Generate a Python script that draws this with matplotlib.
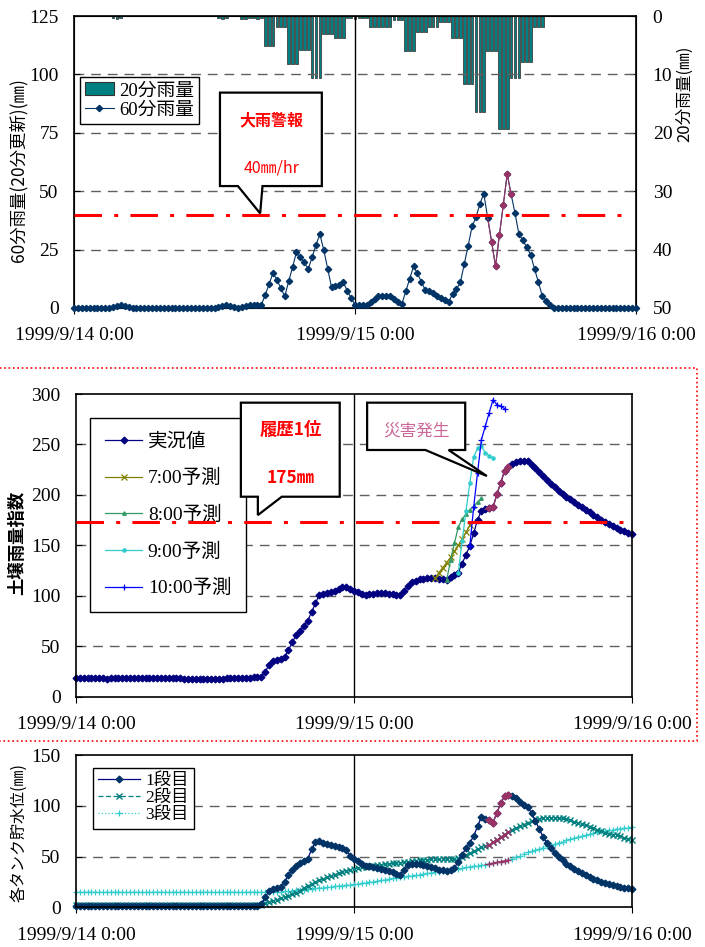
import numpy as np
import matplotlib
matplotlib.use('Agg')
import matplotlib.pyplot as plt
from matplotlib.patches import Polygon, Rectangle, Patch
from matplotlib.lines import Line2D

plt.rcParams['font.family'] = ['Liberation Serif', 'Noto Sans CJK JP']
JP = ['Noto Sans CJK JP', 'DejaVu Sans']

# 1999/9/14 0:00 から 20分毎 (145点)
t = np.arange(145)
xtick_pos = [0, 72, 144]
xtick_labels = ['1999/9/14 0:00', '1999/9/15 0:00', '1999/9/16 0:00']

# 20分雨量 (mm)
rain20 = ([0.0] * 10 + [0.3, 0.5, 0.4] + [0.0] * 24 + [0.3, 0.5, 0.3] + [0.0] * 3
          + [0.5, 0.5, 0.4, 0.4, 0.5, 0.4]
          + [5.1] * 3 + [1.8] * 3 + [8.2] * 3 + [5.9] * 3 + [10.7] * 3 + [3.1] * 3 + [3.8] * 3
          + [0.3, 0.4, 0.5, 0.4, 0.3, 0.4] + [1.8] * 6 + [0.7] * 3
          + [6.0] * 3 + [2.8] * 3 + [1.8] * 3 + [1.0] * 3 + [3.8] * 3 + [11.7] * 3
          + [16.5] * 3 + [6.0] * 3 + [19.3] * 3 + [10.7] * 3 + [7.9] * 3 + [1.8] * 3
          + [0.0] * 24)

# 60分雨量 (20分更新)
rain60 = ([0.0] * 10 + [0.3, 0.8, 1.2, 0.9, 0.4] + [0.0] * 22
          + [0.3, 0.8, 1.1, 0.8, 0.3, 0.0] + [0.5, 1.0, 1.4, 1.3, 1.3, 1.3]
          + [5.6, 10.3, 15.0, 12.0, 8.5, 5.0, 11.4, 17.4, 24.0, 21.7,
             19.5, 16.7, 21.7, 27.0, 31.6, 24.8, 16.7, 8.8, 9.5, 10.0,
             11.0, 7.4, 4.3, 1.3, 1.3, 1.3, 1.3, 2.4, 3.8, 5.0,
             5.0, 5.0, 5.0, 3.8, 2.7, 1.7, 7.1, 12.4, 17.8, 14.8,
             11.3, 7.7, 7.1, 6.3, 5.3, 4.3, 3.4, 2.7, 6.0, 8.1,
             11.0, 18.8, 26.7, 34.9, 38.8, 44.5, 49.0, 38.5, 28.4, 17.8,
             31.2, 44.2, 57.3, 48.7, 40.6, 31.6, 29.0, 26.0, 22.8, 16.7,
             11.0, 5.0, 3.1, 1.4]
          + [0.0] * 22)

# 土壌雨量指数 実況値
soil = ([18.5] * 8 + [17.5] + [18.5] * 19 + [17.5] * 11 + [18.5] * 6 + [19.0, 19.5, 20.0]
        + [19.8, 24.8, 31.4, 35.3, 36.3, 37.3, 39.6, 46.0, 53.8, 61.0,
           65.0, 70.0, 75.3, 83.6, 92.5, 100.8, 101.7, 102.4, 103.4, 105.0,
           106.4, 108.4, 109.0, 106.7, 105.0, 103.4, 101.7, 100.8, 101.4, 101.7,
           102.4, 102.4, 102.4, 101.7, 101.4, 100.8, 101.0, 105.0, 109.7, 113.6,
           115.0, 116.3, 117.0, 117.3, 117.3, 117.3, 117.0, 116.6, 115.6, 118.9,
           120.6, 122.9, 132.0, 140.5, 149.7, 161.9, 175.5, 184.3, 185.7, 187.0,
           187.6, 200.5, 212.0, 224.0, 227.3, 230.6, 232.9, 233.9, 233.9, 233.9,
           229.6, 226.3, 223.0, 218.7, 214.7, 210.8, 207.5, 204.2, 200.9, 198.2,
           195.6, 192.9, 190.3, 187.6, 185.3, 182.7, 180.0, 177.7, 175.4, 173.4,
           171.5, 169.5, 167.5, 165.5, 163.9, 162.5, 161.5])

# 予測値
f0700_t = list(range(93, 103))
f0700 = [117.3, 123, 128, 133, 138, 144, 150, 156, 163, 170]
f0800_t = list(range(96, 106))
f0800 = [115.6, 135, 152, 168, 176, 181, 185.3, 189, 193, 196.5]
f0900_t = list(range(99, 109))
f0900 = [122.9, 154, 184, 212, 238, 246, 248, 242, 239, 236.6]
f1000_t = list(range(102, 112))
f1000 = [149.7, 188, 222, 254.7, 268, 281.2, 294.4, 289.5, 287.8, 285.5]

# タンク貯水位
tank1 = ([0.8] * 48
         + [3.0, 10.0, 16.0, 18.0, 18.7, 20.0, 25.0, 31.8, 36.8, 40.7,
            43.3, 45.5, 47.5, 57.0, 64.0, 65.5, 63.6, 62.5, 61.4, 60.3,
            59.5, 58.2, 56.0, 51.0, 48.0, 45.5, 43.0, 41.0, 40.2, 39.5,
            38.8, 38.0, 37.0, 36.0, 34.5, 33.0, 31.8, 37.0, 41.5, 42.6,
            42.5, 42.2, 41.7, 40.8, 39.8, 38.5, 37.2, 36.4, 36.0, 37.0,
            39.0, 45.0, 52.0, 58.0, 63.6, 70.0, 80.0, 89.0, 86.7, 86.0,
            83.3, 93.0, 102.4, 109.6, 110.6, 109.6, 107.4, 104.0, 101.0, 99.0,
            92.6, 85.0, 77.0, 69.0, 63.0, 58.0, 53.5, 49.2, 46.5, 43.0,
            40.5, 38.0, 35.5, 33.5, 31.5, 29.5, 28.0, 26.5, 25.3, 24.2,
            23.0, 22.0, 21.0, 20.2, 19.4, 18.6, 18.0])
tank2 = ([2.3] * 49
         + [3.9, 5.0, 6.0, 7.5, 8.9, 10.2, 11.5, 13.0, 14.4, 16.5,
            19.0, 21.3, 23.0, 24.5, 26.5, 28.3, 29.8, 30.9, 32.3, 33.7,
            35.0, 36.2, 37.0, 37.8, 38.6, 39.4, 40.0, 40.5, 41.0, 41.4,
            41.7, 42.2, 42.8, 43.3, 43.8, 44.0, 44.5, 45.0, 45.5, 46.0,
            46.3, 46.6, 47.0, 47.3, 47.3, 47.3, 47.3, 47.5, 47.8, 48.0,
            48.3, 50.0, 51.5, 53.2, 55.0, 57.0, 59.1, 60.0, 61.5, 64.0,
            66.5, 69.0, 71.5, 74.5, 76.5, 78.5, 80.0, 81.5, 83.5, 85.0,
            86.5, 87.3, 88.0, 88.3, 88.3, 88.2, 88.0, 87.7, 86.8, 85.6,
            84.2, 83.1, 81.9, 80.6, 79.4, 78.0, 76.5, 74.8, 73.5, 72.3,
            71.7, 71.2, 69.8, 68.5, 67.2, 66.3])
tank3 = ([15.0] * 53
         + [15.4, 15.7, 16.0, 16.4, 16.8, 17.1, 17.5, 17.9, 18.3, 18.7,
            19.1, 19.5, 19.8, 20.2, 20.6, 21.0, 21.4, 21.8, 22.2, 22.6,
            23.1, 23.6, 24.2, 24.8, 25.4, 26.1, 26.7, 27.3, 27.9, 28.5,
            29.1, 29.6, 30.1, 30.7, 31.2, 31.7, 32.3, 32.9, 33.5, 34.0,
            34.6, 35.2, 35.8, 36.4, 37.0, 37.6, 38.2, 38.8, 39.4, 40.0,
            40.5, 41.0, 41.5, 42.0, 42.6, 43.4, 44.2, 45.0, 45.8, 46.6,
            48.0, 49.5, 51.0, 52.5, 54.0, 55.3, 56.5, 57.6, 58.8, 60.0,
            61.2, 62.5, 63.7, 64.7, 65.9, 67.0, 68.2, 69.2, 70.3, 71.3,
            72.2, 73.1, 74.0, 74.8, 75.5, 76.1, 76.6, 77.1, 77.5, 78.0,
            78.4, 78.8])

rain20 = np.array(rain20)
rain60 = np.array(rain60)
soil = np.array(soil)
tank1 = np.array(tank1)
tank2 = np.array(tank2)
tank3 = np.array(tank3)

# 災害発生前後の区間
hl = slice(106, 113)
hl_marks = list(range(1, 7))

NAVY = '#003366'
MAG = '#993366'
GRID = dict(color='#606060', lw=1, ls=(0, (7, 5)))
RED_LS = (0, (9, 4, 1.3, 4))

W, H = 705, 947
fig = plt.figure(figsize=(W / 100, H / 100), dpi=100)


def box(l, t_, r, b):
    return [l / W, 1 - b / H, (r - l) / W, (b - t_) / H]


def style_axes(ax, ylim, yticks, grid_vals):
    ax.set_xlim(0, 144)
    ax.set_ylim(*ylim)
    ax.set_yticks(yticks)
    ax.set_xticks(xtick_pos, xtick_labels)
    ax.tick_params(axis='x', direction='out', length=4, pad=10, labelsize=14)
    ax.tick_params(axis='y', direction='in', length=4, pad=11, labelsize=14)
    for v in grid_vals:
        ax.axhline(v, zorder=0.5, **GRID)
    ax.axvline(72, color='black', lw=1, zorder=1)
    for sp in ax.spines.values():
        sp.set_linewidth(1.2)


def callout(ax, pts):
    ax.add_patch(Polygon(pts, closed=True, facecolor='white', edgecolor='black',
                         lw=1.6, zorder=3.5, clip_on=False))


# ---------------- 上段: 雨量 ----------------
ax1 = fig.add_axes(box(74, 16, 636, 308))
ax1b = ax1.twinx()
ax1b.bar(t, rain20, width=0.7, color='#008080', edgecolor='#404040', linewidth=0.6)
ax1b.set_ylim(50, 0)
ax1b.set_yticks(range(0, 51, 10))
ax1b.tick_params(axis='y', direction='in', length=4, pad=12, labelsize=14)
ax1.set_zorder(ax1b.get_zorder() + 1)
ax1.patch.set_visible(False)

style_axes(ax1, (0, 125), range(0, 126, 25), [25, 50, 75, 100])
ax1.plot(t, rain60, color=NAVY, lw=0.8, marker='D', ms=3.2, clip_on=False, zorder=3)
ax1.plot(t[hl], rain60[hl], color=MAG, lw=0.8, marker='D', ms=3.2,
         markevery=hl_marks, zorder=3)
ax1.plot([0, 140.8], [40, 40], color='red', lw=2.2, ls=RED_LS, zorder=4)

callout(ax1, [(37.4, 92.2), (63.5, 92.2), (63.5, 52.2), (48.3, 52.2),
              (47.7, 40.5), (42.0, 52.2), (37.4, 52.2)])
ax1.text(50.6, 80.5, '大雨警報', color='red', fontsize=11.5, fontweight='bold',
         family=JP, ha='center', va='center', zorder=5)
ax1.text(50.6, 59.8, '40㎜/hr', color='red', fontsize=11.5,
         family=JP, ha='center', va='center', zorder=5)

h_bar = Patch(facecolor='#008080', edgecolor='#333333', lw=0.8)
h_r60 = Line2D([], [], color=NAVY, lw=0.8, marker='D', ms=3.2)
leg1 = ax1.legend([h_bar, h_r60], ['20分雨量', '60分雨量'], loc='upper left',
                  bbox_to_anchor=(0.011, 0.791), borderaxespad=0, fancybox=False,
                  edgecolor='black', framealpha=1, prop={'size': 13.5},
                  handlelength=1.5, handletextpad=0.3, labelspacing=0.12, borderpad=0.28)
leg1.get_frame().set_linewidth(1)
leg1.set_zorder(3)

fig.text(18 / W, 1 - 170 / H, '60分雨量(20分更新)(㎜)', rotation=90, fontsize=12.5,
         family=JP, ha='center', va='center')
fig.text(685 / W, 1 - 94 / H, '20分雨量(㎜)', rotation=90, fontsize=12,
         family=JP, ha='center', va='center')

# ---------------- 中段: 土壌雨量指数 ----------------
ax2 = fig.add_axes(box(76, 394, 632, 696.7))
style_axes(ax2, (0, 300), range(0, 301, 50), [50, 100, 150, 200, 250])
l_obs, = ax2.plot(t, soil, color='#000080', lw=0.9, marker='D', ms=3.4, clip_on=False, zorder=2)
ax2.plot(t[hl], soil[hl], color=MAG, lw=0.9, marker='D', ms=3.4, markevery=hl_marks, zorder=2.1)
l7, = ax2.plot(f0700_t, f0700, color='#808000', lw=0.9, marker='x', ms=4, mew=0.9, zorder=2)
l8, = ax2.plot(f0800_t, f0800, color='#339966', lw=0.9, marker='^', ms=2.5, zorder=2)
l9, = ax2.plot(f0900_t, f0900, color='#33CCCC', lw=0.9, marker='o', ms=2.3, zorder=2)
l10, = ax2.plot(f1000_t, f1000, color='#0000FF', lw=0.9, marker='+', ms=5, mew=0.9, zorder=2)
ax2.plot([0, 142.4], [173, 173], color='red', lw=2.2, ls=RED_LS, zorder=4)

callout(ax2, [(42.7, 291.4), (68.3, 291.4), (68.3, 198.2), (53.3, 198.2),
              (47.1, 180.0), (47.1, 198.2), (42.7, 198.2)])
ax2.text(55.6, 264, '履歴1位', color='red', fontsize=12.5, fontweight='bold',
         family=JP, ha='center', va='center', zorder=5)
ax2.text(55.6, 216.4, '175㎜', color='red', fontsize=12.5, fontweight='bold',
         family=JP, ha='center', va='center', zorder=5)
callout(ax2, [(75.4, 291.4), (100.8, 291.4), (100.8, 244.5), (96.5, 244.5),
              (106.4, 218.7), (90.5, 244.5), (75.4, 244.5)])
ax2.text(88.2, 263.3, '災害発生', color='#CC6699', fontsize=12,
         family=JP, ha='center', va='center', zorder=5)

leg2 = ax2.legend([l_obs, l7, l8, l9, l10],
                  ['実況値', '7:00予測', '8:00予測', '9:00予測', '10:00予測'],
                  loc='upper left', bbox_to_anchor=(0.026, 0.921), borderaxespad=0,
                  fancybox=False, edgecolor='black', framealpha=1, prop={'size': 14},
                  handlelength=1.9, handletextpad=0.3, labelspacing=0.95, borderpad=0.75)
leg2.get_frame().set_linewidth(1)
leg2.set_zorder(3)

fig.text(17 / W, 1 - 543 / H, '土壌雨量指数', rotation=90, fontsize=12.5, fontweight='bold',
         family=JP, ha='center', va='center')

# ---------------- 下段: タンク貯水位 ----------------
ax3 = fig.add_axes(box(76, 755, 632, 907.3))
style_axes(ax3, (0, 150), range(0, 151, 50), [50, 100])
k1, = ax3.plot(t, tank1, color='#000080', lw=0.9, marker='D', ms=3.4, mfc=NAVY, mec=NAVY,
               clip_on=False, zorder=2.3)
ax3.plot(t[hl], tank1[hl], color=MAG, lw=0.9, marker='D', ms=3.4, markevery=hl_marks, zorder=2.4)
k2, = ax3.plot(t, tank2, color='#008080', lw=0.9, ls=(0, (4, 2)), marker='x', ms=4, mew=1.0,
               clip_on=False, zorder=2.2)
ax3.plot(t[hl], tank2[hl], color=MAG, lw=0.9, marker='x', ms=4, mew=1.0,
         markevery=hl_marks, zorder=2.25)
k3, = ax3.plot(t, tank3, color='#33CCCC', lw=0.9, ls=':', marker='+', ms=5, mew=0.9,
               clip_on=False, zorder=2.1)
ax3.plot(t[hl], tank3[hl], color=MAG, lw=0.9, marker='+', ms=5, mew=0.9,
         markevery=hl_marks, zorder=2.15)

leg3 = ax3.legend([k1, k2, k3], ['1段目', '2段目', '3段目'], loc='upper left',
                  bbox_to_anchor=(0.031, 0.915), borderaxespad=0, fancybox=False,
                  edgecolor='black', framealpha=1, prop={'size': 12.5},
                  handlelength=2.4, handletextpad=0.3, labelspacing=0.05, borderpad=0.3)
leg3.get_frame().set_linewidth(1)
leg3.set_zorder(3)

fig.text(19 / W, 1 - 832 / H, '各タンク貯水位(㎜)', rotation=90, fontsize=11.5,
         family=JP, ha='center', va='center')

# 中段を囲む赤点線枠
fig.add_artist(Rectangle((-0.01, 1 - 741 / H), 697 / W + 0.01, (741 - 368) / H,
                         transform=fig.transFigure, fill=False, ec='red', ls=':', lw=1.2))

fig.savefig('out.png', dpi=100)
